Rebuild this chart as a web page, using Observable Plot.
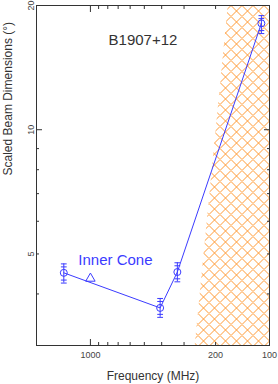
<!DOCTYPE html>
<html><head><meta charset="utf-8">
<script src="https://cdn.jsdelivr.net/npm/d3@7"></script>
<script src="https://cdn.jsdelivr.net/npm/@observablehq/plot@0.6"></script>
<style>body{margin:0;background:#fff} svg{display:block}</style>
</head><body><div id="chart"></div>
<script>
// Measured beam widths (circles with error bars)
const freqs  = [1408, 408, 327, 111];
const widths = [4.50, 3.70, 4.52, 18.1];
const errLo  = [4.25, 3.51, 4.28, 17.1];
const errHi  = [4.73, 3.90, 4.76, 18.9];
// Inner-cone model point (triangle)
const triFreq  = [1000];
const triWidth = [4.36];
// Hatched (scattering) region boundary
const hatchY     = [3, 20];
const hatchLeft  = [260, 170];
const hatchRight = [100, 100];
// Ticks
const xMajor  = [1000, 100];
const xMinor  = [900, 800, 700, 600, 500, 400, 300, 200];
const xLabels = [1000, 500, 200, 100];
const yMajor  = [10];
const yMinor  = [4, 5, 6, 7, 8, 9, 20];
const yLabels = [5, 10, 20];
// Texts
const pulsarName = ["B1907+12"]; const namePos = [509, 16.0];
const coneLabel  = ["Inner Cone"]; const conePos = [725, 4.70];
const xTitle = "Frequency (MHz)";
const yTitle = "Scaled Beam Dimensions (°)";

const blue = "#3b3bff";
const ink = "#333";
const points = freqs.map((f, i) => ({f, w: widths[i], lo: errLo[i], hi: errHi[i]}));
const tri = triFreq.map((f, i) => ({f, w: triWidth[i]}));
const hatch = hatchY.map((y, i) => ({y, x1: hatchLeft[i], x2: hatchRight[i]}));
const lineShape = {draw(ctx, l) { ctx.moveTo(0, 0); ctx.lineTo(0, -l); }};
const capOpts = (y, dy) => ({x: "f", y, rotate: 90, length: 5, anchor: "middle", shape: lineShape, stroke: blue, strokeWidth: 1, dy});

function ticksX(data, len) {
  return [
    Plot.axisX(data, {anchor: "bottom", tickSize: len, dy: -len, tickFormat: () => "", stroke: ink}),
    Plot.axisX(data, {anchor: "top", tickSize: len, dy: len, tickFormat: () => "", stroke: ink})
  ];
}
function ticksY(data, len) {
  return [
    Plot.axisY(data, {anchor: "left", tickSize: len, dx: len, tickFormat: () => "", stroke: ink}),
    Plot.axisY(data, {anchor: "right", tickSize: len, dx: -len, tickFormat: () => "", stroke: ink})
  ];
}

const plot = Plot.plot({
  width: 278, height: 384,
  marginLeft: 36, marginRight: 9, marginTop: 5, marginBottom: 39,
  style: {fontFamily: "Liberation Sans, Arial, sans-serif", fontSize: "9px", color: ink, background: "#fff"},
  x: {type: "log", domain: [2000, 100], axis: null},
  y: {type: "log", domain: [3, 20], axis: null},
  marks: [
    Plot.areaX(hatch, {y: "y", x1: "x1", x2: "x2", fill: "url(#hatch)", curve: "linear"}),
    ...ticksX(xMajor, 6), ...ticksX(xMinor, 3),
    ...ticksY(yMajor, 6), ...ticksY(yMinor, 3),
    Plot.axisX(xLabels, {anchor: "bottom", tickSize: 0, tickPadding: 6, tickFormat: d => String(d), fill: "#444", fontSize: 9}),
    Plot.axisY(yLabels, {anchor: "left", tickSize: 0, tickPadding: 3, tickFormat: d => String(d), rotate: -90, textAnchor: "middle", lineAnchor: "bottom", fill: "#444", fontSize: 9}),
    Plot.frame({stroke: ink}),
    Plot.line(points, {x: "f", y: "w", stroke: blue, strokeWidth: 1}),
    Plot.ruleX(points, {x: "f", y1: "lo", y2: "hi", stroke: blue, strokeWidth: 1}),
    Plot.vector(points, capOpts("lo", 0)),
    Plot.vector(points, capOpts("hi", 0)),
    Plot.vector(points, capOpts("lo", -3)),
    Plot.vector(points, capOpts("hi", 3)),
    Plot.dot(points, {x: "f", y: "w", r: 3.5, stroke: blue, fill: "none", strokeWidth: 1}),
    Plot.dot(tri, {x: "f", y: "w", symbol: "triangle", r: 3.5, stroke: blue, fill: "none", strokeWidth: 1}),
    Plot.text(pulsarName, {x: () => namePos[0], y: () => namePos[1], text: d => d, fontSize: 15, fill: ink, textAnchor: "middle", lineAnchor: "bottom", letterSpacing: "0.6px"}),
    Plot.text(coneLabel, {x: () => conePos[0], y: () => conePos[1], text: d => d, fontSize: 15, fill: blue, textAnchor: "middle", lineAnchor: "bottom", letterSpacing: "0.6px"}),
    Plot.text([xTitle], {frameAnchor: "bottom", dy: 34, text: d => d, fontSize: 12, fill: ink, letterSpacing: "0.5px"}),
    Plot.text([yTitle], {frameAnchor: "left", dx: -28, rotate: -90, text: d => d, fontSize: 12, fill: ink, letterSpacing: "0.5px"})
  ]
});

const NS = "http://www.w3.org/2000/svg";
const defs = document.createElementNS(NS, "defs");
const pat = document.createElementNS(NS, "pattern");
pat.setAttribute("id", "hatch");
pat.setAttribute("patternUnits", "userSpaceOnUse");
pat.setAttribute("width", "11");
pat.setAttribute("height", "11");
const p = document.createElementNS(NS, "path");
p.setAttribute("d", "M0,5.5L5.5,0L11,5.5L5.5,11Z");
p.setAttribute("stroke", "#ff9933");
p.setAttribute("stroke-width", "1");
p.setAttribute("fill", "none");
pat.appendChild(p);
defs.appendChild(pat);
plot.insertBefore(defs, plot.firstChild);
document.getElementById("chart").appendChild(plot);
</script>
</body></html>
